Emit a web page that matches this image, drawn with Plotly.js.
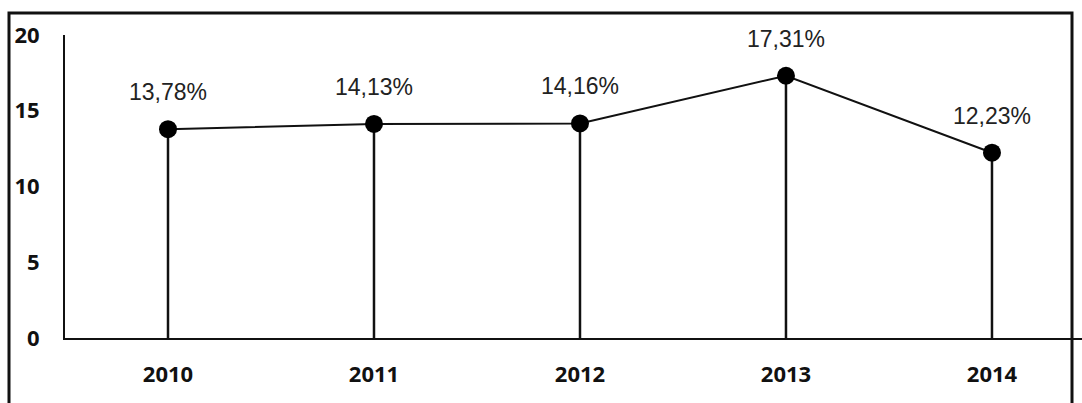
<!DOCTYPE html>
<html>
<head>
<meta charset="utf-8">
<script src="https://cdn.plot.ly/plotly-3.0.1.min.js"></script>
<style>
html,body{margin:0;padding:0;background:#fff;}
#chart{width:1082px;height:403px;}
</style>
</head>
<body>
<div id="chart"></div>
<script>
const years = ['2010', '2011', '2012', '2013', '2014'];
const values = [13.78, 14.13, 14.16, 17.31, 12.23];
const labels = ['13,78%', '14,13%', '14,16%', '17,31%', '12,23%'];
const yTicks = [0, 5, 10, 15, 20];

const xIdx = years.map((_, i) => i);

const trace = {
  x: xIdx,
  y: values,
  type: 'scatter',
  mode: 'lines+markers',
  line: {color: '#111', width: 2},
  marker: {color: '#000', size: 18},
  error_y: {
    type: 'data',
    symmetric: false,
    array: values.map(() => 0),
    arrayminus: values,
    color: '#111',
    thickness: 2.5,
    width: 0
  },
  hoverinfo: 'skip'
};

const annotations = values.map((v, i) => ({
  x: xIdx[i], y: v, xref: 'x', yref: 'y',
  text: labels[i], showarrow: false, yshift: 37,
  font: {family: 'Liberation Sans, Arial, sans-serif', size: 23, color: '#222'}
}));

const tickFont = {family: 'Open Sans, sans-serif', size: 22, color: '#111', weight: 'bold'};

const layout = {
  width: 1082, height: 403,
  margin: {l: 65, r: 0, t: 35, b: 65},
  paper_bgcolor: '#fff', plot_bgcolor: '#fff',
  showlegend: false,
  xaxis: {
    range: [-0.5, 4.437],
    tickmode: 'array', tickvals: xIdx, ticktext: years,
    showgrid: false, zeroline: false,
    showline: true, linecolor: '#111', linewidth: 2,
    ticks: '', ticklabelstandoff: 16,
    tickfont: tickFont
  },
  yaxis: {
    range: [0, 20],
    tickmode: 'array', tickvals: yTicks, ticktext: yTicks.map(String),
    showgrid: false, zeroline: false,
    showline: true, linecolor: '#111', linewidth: 2,
    ticks: '', ticklabelstandoff: 19,
    tickfont: tickFont
  },
  annotations: annotations,
  shapes: [{
    type: 'rect', xref: 'paper', yref: 'paper',
    x0: (9 - 65) / 1017, x1: (1072 - 65) / 1017,
    y0: (338 - 410) / 303, y1: (338 - 13) / 303,
    line: {color: '#111', width: 3}, fillcolor: 'rgba(0,0,0,0)', layer: 'above'
  }]
};

Plotly.newPlot('chart', [trace], layout, {displayModeBar: false, staticPlot: true});
</script>
</body>
</html>
